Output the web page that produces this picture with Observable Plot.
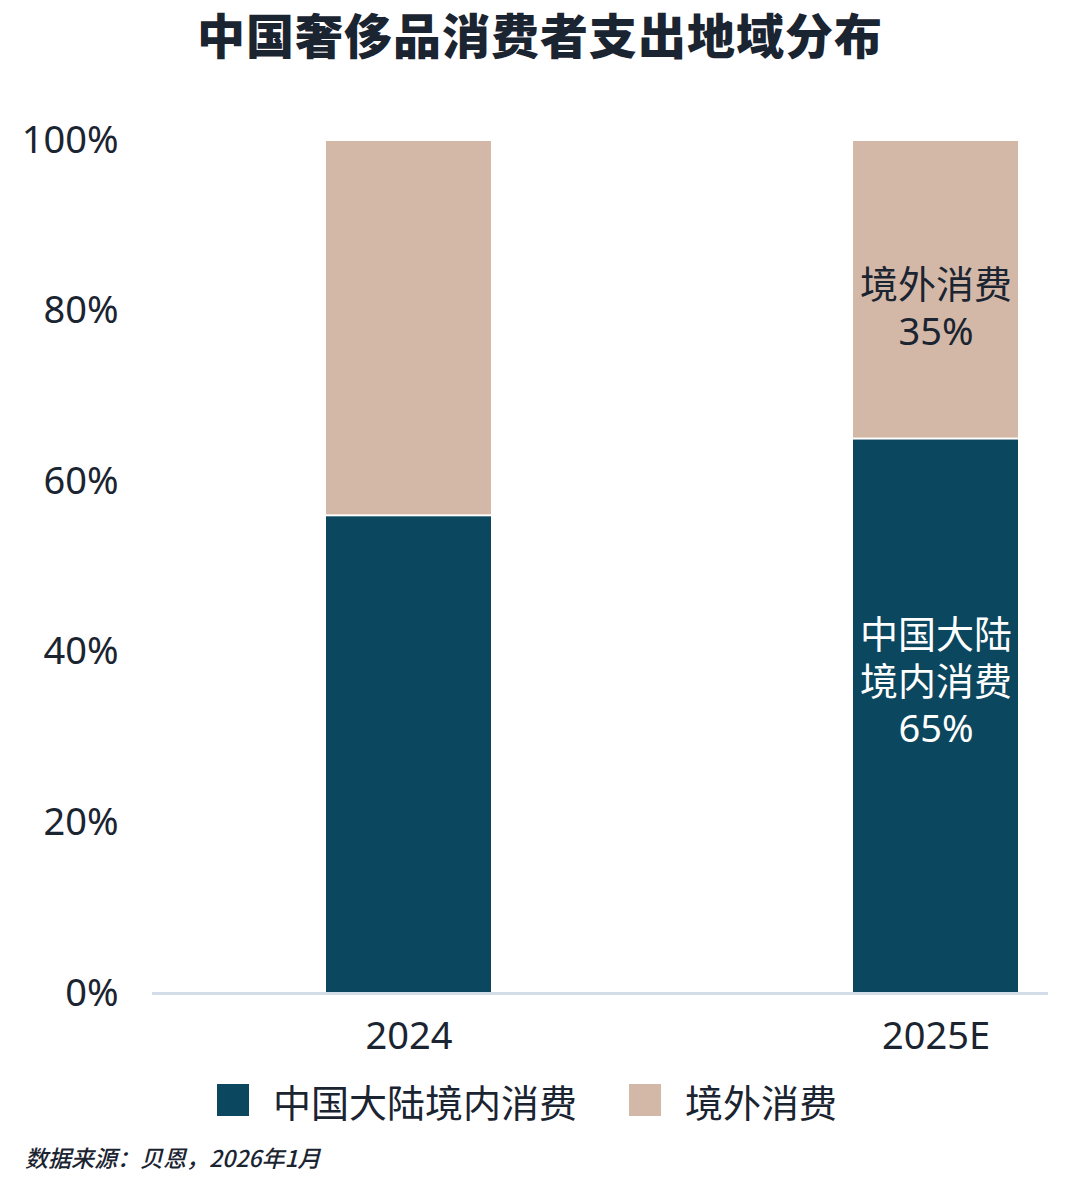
<!DOCTYPE html>
<html>
<head>
<meta charset="utf-8">
<script src="https://cdn.jsdelivr.net/npm/d3@7"></script>
<script src="https://cdn.jsdelivr.net/npm/@observablehq/plot@0.6"></script>
<style>
  body { margin: 0; background: #fff; width: 1080px; height: 1198px; overflow: hidden;
         font-family: "Noto Sans", "Noto Sans CJK SC", sans-serif; color: #1b2431; }
  #title { height: 90px; line-height: 66px; text-align: center; font-size: 48px; font-weight: 900;
           font-family: "Noto Sans CJK SC", "Noto Sans", sans-serif; letter-spacing: 1px; }
  #chart { height: 978px; }
  #legend { display: flex; align-items: center; margin-left: 217px; height: 64px; font-size: 38px;
            font-family: "Noto Sans", "Noto Sans CJK SC", sans-serif; }
  .sw { width: 32px; height: 32px; margin-right: 24px; }
  .item { display: flex; align-items: center; margin-right: 52px; }
  #caption { margin-left: 25px; margin-top: 8px; font-size: 23px; font-style: italic; font-weight: 500;
             font-family: "Noto Sans CJK SC", "Noto Sans", sans-serif; }
</style>
</head>
<body>
<div id="title">中国奢侈品消费者支出地域分布</div>
<div id="chart"></div>
<div id="legend"></div>
<div id="caption">数据来源：贝恩，2026年1月</div>
<script>
const years = ["2024", "2025E"];
const seriesNames = ["中国大陆境内消费", "境外消费"];
const domestic = [56, 65];
const overseas = [44, 35];
const colors = ["#0b475e", "#d3b8a7"];
const yTicks = [0, 20, 40, 60, 80, 100];
const labelYear = "2025E";

const rows = [];
years.forEach((y, i) => {
  rows.push({year: y, series: seriesNames[0], value: domestic[i]});
  rows.push({year: y, series: seriesNames[1], value: overseas[i]});
});

const li = years.indexOf(labelYear);
const labels = [
  {year: labelYear, y: domestic[li] + overseas[li] / 2, text: "境外消费\n" + overseas[li] + "%"},
  {year: labelYear, y: domestic[li] / 2, text: "中国大陆\n境内消费\n" + domestic[li] + "%"}
];

const plot = Plot.plot({
  width: 1080,
  height: 978,
  marginTop: 50,
  marginBottom: 75,
  marginLeft: 152,
  marginRight: 32,
  style: {fontFamily: '"Noto Sans", "Noto Sans CJK SC", sans-serif', fontSize: "38px", color: "#1b2431", background: "#fff"},
  x: {domain: years, range: [326, 1018], paddingInner: 0.687, paddingOuter: 0, label: null, tickSize: 0, tickPadding: 29},
  y: {domain: [0, 100], ticks: yTicks, tickFormat: d => d + "%", label: null, tickSize: 0, tickPadding: 34},
  color: {domain: seriesNames, range: colors},
  marks: [
    Plot.barY(rows, {x: "year", y: "value", fill: "series", order: seriesNames, insetTop: 1, insetBottom: 1}),
    Plot.ruleY([0], {stroke: "#d3dde7", strokeWidth: 3}),
    Plot.text(labels.slice(0, 1), {x: "year", y: "y", text: "text", fill: "#1b2431", dy: 17, fontSize: 38, lineHeight: 1.23}),
    Plot.text(labels.slice(1), {x: "year", y: "y", text: "text", fill: "#ffffff", dy: -36, fontSize: 38, lineHeight: 1.23})
  ]
});
document.getElementById("chart").appendChild(plot);

const legend = document.getElementById("legend");
seriesNames.forEach((s, i) => {
  const it = document.createElement("div");
  it.className = "item";
  it.innerHTML = `<div class="sw" style="background:${colors[i]}"></div><span>${s}</span>`;
  legend.appendChild(it);
});
</script>
</body>
</html>
